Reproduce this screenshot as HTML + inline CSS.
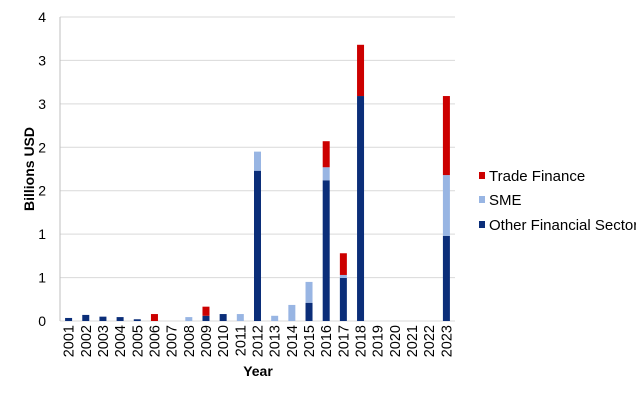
<!DOCTYPE html>
<html><head><meta charset="utf-8"><style>
body{margin:0;background:#fff;font-family:"Liberation Sans",Arial,sans-serif}
svg text{font-family:"Liberation Sans",Arial,sans-serif}
</style></head><body>
<svg id="chart" width="636" height="402" xmlns="http://www.w3.org/2000/svg"></svg>
<script>
const years=["2001","2002","2003","2004","2005","2006","2007","2008","2009","2010","2011","2012","2013","2014","2015","2016","2017","2018","2019","2020","2021","2022","2023"];
const otherFin=[0.035,0.07,0.05,0.045,0.02,0,0,0,0.06,0.08,0,1.73,0,0,0.21,1.62,0.495,2.59,0,0,0,0,0.98];
const sme=[0,0,0,0,0,0,0,0.045,0,0,0.08,0.22,0.06,0.185,0.24,0.15,0.035,0,0,0,0,0,0.70];
const tradeFin=[0,0,0,0,0,0.08,0,0,0.105,0,0,0,0,0,0,0.30,0.25,0.59,0,0,0,0,0.91];
const tickVals=[0,0.5,1,1.5,2,2.5,3,3.5];
const tickLabels=["0","1","1","2","2","3","3","4"];
const NS="http://www.w3.org/2000/svg";
const svg=document.getElementById("chart");
const x0=60,x1=455,yBase=321,yTop=17,maxV=3.5;
const band=(x1-x0)/years.length;
const yS=v=>yBase-(v/maxV)*(yBase-yTop);
const xS=i=>x0+band*(i+0.5);
function mk(t,a,txt){const e=document.createElementNS(NS,t);for(const k in a)e.setAttribute(k,a[k]);if(txt!==undefined)e.textContent=txt;svg.appendChild(e);return e;}
tickVals.forEach((v,i)=>{
  const g=mk("line",{x1:x0,x2:x1,y1:yS(v),y2:yS(v),stroke:"#d9d9d9","stroke-width":1});
  
  
  const t=mk("text",{x:x0-14,y:yS(v)+5,"text-anchor":"end","font-size":"14",fill:"#000"},tickLabels[i]);
  
  
});
const ax=mk("line",{x1:x0,x2:x0,y1:yTop,y2:yBase,stroke:"#bfbfbf"});


const series=[[otherFin,"#0b2e79","other-financial"],[sme,"#98b5e3","sme"],[tradeFin,"#cc0000","trade-finance"]];
years.forEach((yr,i)=>{
  let acc=0;
  series.forEach(([arr,col,nm])=>{
    const v=arr[i];
    if(v>0){
      const r=mk("rect",{x:xS(i)-3.5,width:7,y:yS(acc+v),height:yS(acc)-yS(acc+v),fill:col});
      
      
    }
    acc+=v;
  });
  const t=mk("text",{x:0,y:0,"font-size":"14.5","text-anchor":"end",fill:"#000",transform:`translate(${xS(i)+5},325) rotate(-90)`},yr);
  
  
});
const yt=mk("text",{x:0,y:0,"font-size":"14","font-weight":"bold","text-anchor":"middle",transform:"translate(34,169) rotate(-90)"},"Billions USD");


const xt=mk("text",{x:258,y:376,"font-size":"14","font-weight":"bold","text-anchor":"middle"},"Year");


const legend=[["Trade Finance","#cc0000",176],["SME","#98b5e3",200],["Other Financial Sector","#0b2e79",225]];
legend.forEach(([lab,col,y])=>{
  const r=mk("rect",{x:479,y:y-4,width:6,height:7,fill:col});
  
  
  const t=mk("text",{x:489,y:y+5,"font-size":"15"},lab);
  
  
});
</script>
</body></html>
